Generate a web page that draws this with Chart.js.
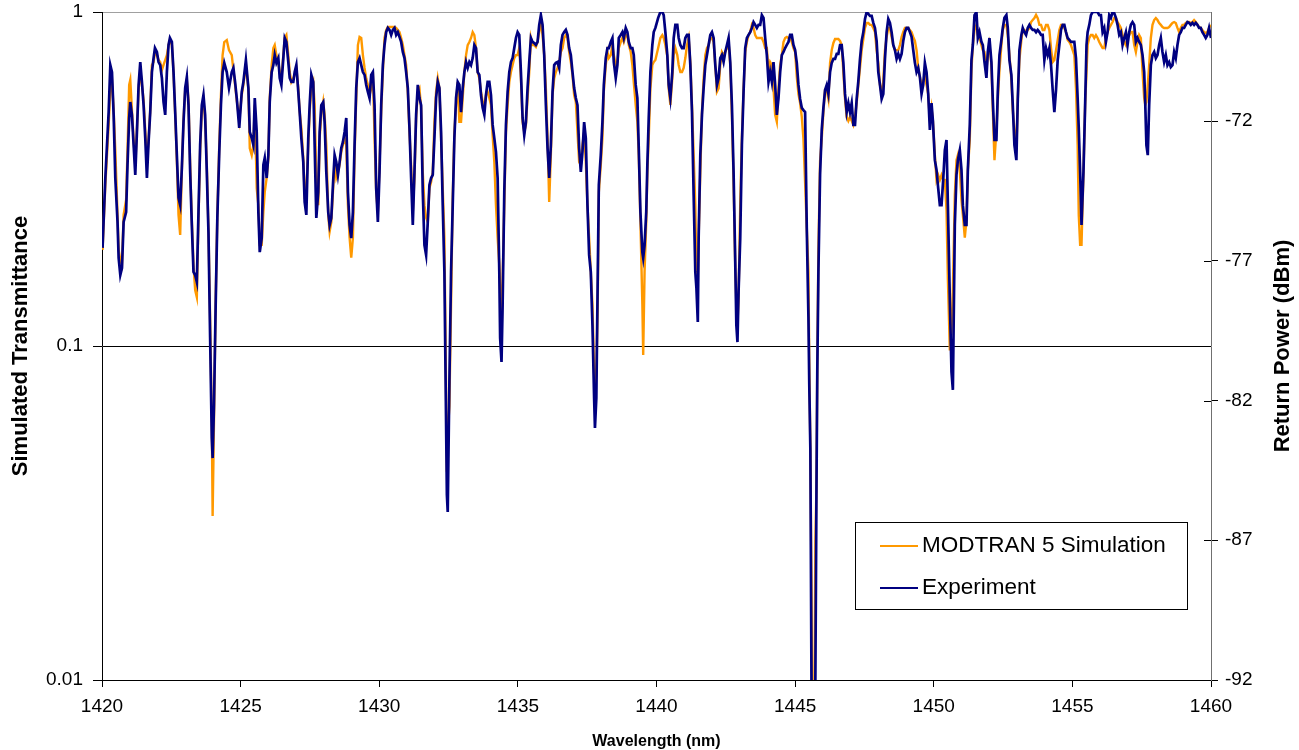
<!DOCTYPE html>
<html lang="en">
<head>
<meta charset="UTF-8">
<title>Simulated Transmittance vs Return Power</title>
<style>
  html, body { margin: 0; padding: 0; background: #fff; }
</style>
</head>
<body>
<canvas id="myChart" width="1299" height="750"></canvas>
<script src="https://cdn.jsdelivr.net/npm/chart.js"></script>
<script>
// wavelength (nm), shared by both traces
const wavelength = [
 1420.02,1420.12,1420.24,1420.30,1420.36,1420.42,1420.48,1420.56,1420.60,1420.66,
 1420.72,1420.78,1420.87,1420.92,1420.98,1421.02,1421.08,1421.14,1421.20,1421.26,
 1421.32,1421.38,1421.44,1421.50,1421.56,1421.62,1421.68,1421.74,1421.80,1421.86,
 1421.91,1421.98,1422.04,1422.10,1422.16,1422.22,1422.28,1422.34,1422.40,1422.45,
 1422.52,1422.58,1422.64,1422.70,1422.76,1422.82,1422.88,1422.94,1423.00,1423.06,
 1423.12,1423.18,1423.24,1423.30,1423.36,1423.42,1423.48,1423.54,1423.60,1423.66,
 1423.72,1423.78,1423.84,1423.90,1423.96,1423.99,1424.04,1424.10,1424.16,1424.23,
 1424.29,1424.35,1424.41,1424.50,1424.58,1424.68,1424.74,1424.80,1424.86,1424.95,
 1425.04,1425.10,1425.19,1425.28,1425.33,1425.40,1425.46,1425.51,1425.58,1425.64,
 1425.69,1425.76,1425.82,1425.87,1425.94,1426.00,1426.05,1426.12,1426.18,1426.23,
 1426.29,1426.36,1426.41,1426.47,1426.54,1426.59,1426.65,1426.72,1426.77,1426.83,
 1426.90,1426.95,1427.01,1427.08,1427.13,1427.19,1427.26,1427.31,1427.37,1427.44,
 1427.49,1427.55,1427.62,1427.67,1427.73,1427.80,1427.85,1427.91,1427.98,1428.03,
 1428.09,1428.16,1428.21,1428.27,1428.33,1428.39,1428.45,1428.51,1428.57,1428.63,
 1428.69,1428.75,1428.81,1428.87,1428.93,1428.99,1429.05,1429.11,1429.17,1429.23,
 1429.29,1429.35,1429.41,1429.47,1429.53,1429.59,1429.65,1429.71,1429.77,1429.83,
 1429.89,1429.95,
 1430.01,1430.07,1430.13,1430.19,1430.25,1430.31,1430.37,1430.43,
 1430.49,1430.55,1430.61,1430.67,1430.73,1430.79,1430.85,1430.91,1430.97,1431.03,
 1431.09,1431.15,1431.21,1431.27,1431.33,1431.39,1431.45,1431.51,1431.57,1431.63,
 1431.69,1431.75,1431.81,1431.87,1431.93,1431.99,1432.05,1432.11,1432.17,1432.23,
 1432.29,1432.35,1432.39,1432.44,1432.47,1432.53,1432.59,1432.65,1432.71,1432.77,
 1432.83,1432.89,1432.95,1433.01,1433.07,1433.13,1433.19,1433.25,1433.31,1433.37,
 1433.43,1433.49,1433.55,1433.61,1433.67,1433.73,1433.79,1433.85,1433.91,1433.97,
 1434.03,1434.09,1434.15,1434.21,1434.27,1434.33,1434.36,1434.41,1434.45,1434.51,
 1434.57,1434.63,1434.69,1434.75,1434.81,1434.87,1434.93,
 1434.99,1435.05,1435.11,1435.17,1435.23,1435.29,1435.35,1435.41,1435.47,1435.53,
 1435.59,1435.65,1435.71,1435.77,1435.83,1435.89,1435.95,1436.01,1436.07,1436.13,
 1436.19,1436.25,1436.31,1436.37,1436.43,1436.49,1436.55,1436.61,1436.67,1436.73,
 1436.79,1436.85,1436.91,1436.97,1437.03,1437.09,1437.15,1437.21,1437.27,1437.33,
 1437.39,1437.45,1437.51,1437.57,1437.63,1437.69,1437.75,1437.78,1437.83,1437.88,
 1437.92,1437.99,1438.05,1438.10,1438.17,1438.23,1438.28,1438.35,1438.41,1438.46,
 1438.53,1438.59,1438.64,1438.71,1438.77,1438.82,1438.89,1438.95,1439.00,1439.07,
 1439.13,1439.18,1439.25,1439.31,1439.36,1439.42,1439.49,1439.52,1439.57,1439.63,
 1439.67,1439.72,1439.78,1439.85,1439.90,1439.96,1440.06,
 1440.14,1440.21,1440.26,1440.32,1440.39,1440.44,1440.50,1440.57,1440.62,1440.68,
 1440.75,1440.80,1440.86,1440.92,1440.98,1441.04,1441.10,1441.16,1441.22,1441.28,
 1441.34,1441.40,1441.44,1441.49,1441.52,1441.58,1441.64,1441.70,1441.76,1441.82,
 1441.88,1441.94,1442.00,1442.06,1442.12,1442.18,1442.24,1442.30,1442.36,1442.42,
 1442.48,1442.54,1442.60,1442.66,1442.72,1442.78,1442.84,1442.88,1442.92,1442.96,
 1443.02,1443.08,1443.14,1443.20,1443.26,1443.32,1443.38,1443.44,1443.50,1443.56,
 1443.62,1443.68,1443.74,1443.80,1443.86,1443.92,1443.98,1444.04,1444.10,1444.16,
 1444.22,1444.28,1444.34,1444.40,1444.46,1444.52,1444.58,1444.64,1444.70,1444.76,
 1444.82,1444.88,1444.94,1445.00,
 1445.06,1445.12,1445.18,1445.24,1445.30,1445.36,1445.42,1445.48,1445.51,1445.55,
 1445.59,1445.62,1445.69,1445.73,1445.77,1445.80,1445.84,1445.90,1445.96,1446.02,
 1446.08,1446.14,1446.20,1446.26,1446.32,1446.38,1446.44,1446.50,1446.56,1446.62,
 1446.68,1446.74,1446.80,1446.86,1446.92,1446.98,1447.04,1447.10,1447.16,1447.22,
 1447.28,1447.34,1447.40,1447.46,1447.52,1447.58,1447.64,1447.70,1447.76,1447.82,
 1447.88,1447.94,1448.00,1448.06,1448.12,1448.18,1448.24,1448.30,1448.36,1448.42,
 1448.48,1448.54,1448.60,1448.66,1448.72,1448.78,1448.84,1448.90,1448.96,1449.02,
 1449.08,1449.14,1449.20,1449.26,1449.32,1449.38,1449.44,1449.50,1449.56,1449.62,
 1449.68,1449.74,1449.80,1449.86,1449.92,1449.97,1450.04,
 1450.10,1450.16,1450.22,1450.28,1450.34,1450.40,1450.46,1450.51,1450.58,1450.64,
 1450.69,1450.76,1450.82,1450.87,1450.94,1451.00,1451.05,1451.12,1451.18,1451.23,
 1451.30,1451.36,1451.41,1451.47,1451.54,1451.59,1451.65,1451.72,1451.77,1451.83,
 1451.90,1451.95,1452.01,1452.08,1452.13,1452.19,1452.26,1452.31,1452.37,1452.44,
 1452.49,1452.55,1452.62,1452.67,1452.73,1452.80,1452.85,1452.91,1452.98,1453.03,
 1453.09,1453.16,1453.21,1453.27,1453.33,1453.39,1453.45,1453.51,1453.57,1453.63,
 1453.69,1453.75,1453.81,1453.87,1453.93,1453.99,1454.05,1454.11,1454.17,1454.23,
 1454.29,1454.35,1454.41,1454.47,1454.53,1454.59,1454.65,1454.71,1454.77,1454.83,
 1454.89,1454.95,1455.01,1455.07,
 1455.13,1455.19,1455.23,1455.28,1455.33,1455.40,1455.46,1455.51,1455.55,1455.61,
 1455.67,1455.73,1455.79,1455.85,1455.91,1455.97,1456.03,1456.09,1456.15,1456.21,
 1456.27,1456.33,1456.39,1456.45,1456.51,1456.57,1456.63,1456.69,1456.75,1456.81,
 1456.87,1456.93,1456.99,1457.05,1457.11,1457.17,1457.23,1457.29,1457.35,1457.41,
 1457.47,1457.53,1457.59,1457.63,1457.67,1457.72,1457.77,1457.83,1457.89,1457.95,
 1458.01,1458.07,1458.13,1458.19,1458.25,1458.31,1458.37,1458.43,1458.49,1458.55,
 1458.61,1458.67,1458.73,1458.79,1458.85,1458.91,1458.97,1459.03,1459.09,1459.15,
 1459.21,1459.27,1459.33,1459.39,1459.45,1459.51,1459.57,1459.63,1459.69,1459.75,
 1459.81,1459.87,1459.93,1460.00
];

// Experiment, return power (dBm), right axis
const experiment = [
 -76.54,-74.04,-71.68,-70.00,-70.25,-71.78,-74.04,-75.61,-76.90,-77.51,
 -77.26,-75.61,-75.26,-73.57,-71.89,-71.32,-71.78,-72.86,-73.93,-72.39,
 -70.71,-69.89,-70.60,-71.43,-72.61,-74.04,-72.75,-71.68,-70.25,-69.75,
 -69.39,-69.53,-69.89,-70.00,-70.46,-71.32,-71.78,-70.25,-69.28,-69.03,
 -69.17,-70.25,-71.68,-73.22,-74.75,-75.01,-73.68,-72.04,-70.82,-70.43,
 -71.43,-73.82,-75.72,-77.40,-77.51,-77.76,-75.26,-72.86,-71.43,-71.07,
 -71.78,-73.82,-75.97,-79.76,-83.34,-84.06,-82.16,-78.58,-75.47,-73.11,
 -71.43,-70.25,-69.92,-70.25,-70.82,-70.25,-70.10,-70.60,-71.18,-72.25,
 -70.96,-70.60,-69.82,-70.82,-72.39,-72.61,-72.86,-71.18,-72.39,-75.26,
 -76.69,-76.19,-73.57,-73.32,-74.04,-73.22,-71.32,-70.25,-70.00,-69.64,
 -69.92,-69.75,-70.46,-70.71,-69.75,-69.03,-69.17,-69.89,-70.46,-70.60,
 -70.60,-70.25,-70.00,-70.96,-71.68,-72.61,-73.47,-74.90,-75.36,-72.61,
 -71.43,-70.35,-70.60,-72.86,-75.47,-74.54,-72.39,-71.43,-71.32,-72.04,
 -73.82,-75.26,-75.72,-75.47,-74.29,-73.22,-73.47,-73.93,-73.47,-72.97,
 -72.75,-72.39,-71.89,-74.54,-75.72,-76.19,-75.26,-72.86,-70.82,-69.89,
 -69.75,-70.00,-70.25,-70.35,-70.71,-70.96,-71.18,-70.35,-70.25,-71.43,
 -74.40,-75.61,
 -73.82,-71.43,-70.00,-69.28,-68.82,-68.67,-68.74,-68.92,
 -68.74,-68.67,-68.92,-68.82,-68.99,-69.17,-69.53,-69.75,-70.25,-70.82,
 -72.25,-74.04,-75.72,-73.82,-71.78,-70.71,-71.18,-71.43,-74.54,-76.44,
 -76.79,-75.61,-74.29,-74.04,-73.93,-72.61,-71.18,-70.60,-70.82,-72.39,
 -75.01,-77.40,-80.98,-85.38,-85.99,-81.34,-77.40,-75.01,-72.61,-71.18,
 -70.60,-70.71,-71.68,-70.82,-70.25,-69.89,-70.10,-69.89,-70.00,-69.75,
 -69.28,-69.39,-70.25,-70.35,-71.07,-71.53,-71.78,-71.07,-70.60,-70.60,
 -71.07,-72.14,-72.61,-73.11,-74.04,-77.40,-79.76,-80.62,-78.58,-74.54,
 -72.14,-70.96,-70.25,-69.89,-69.75,-69.39,-69.03,
 -68.82,-68.92,-70.25,-71.89,-72.50,-72.04,-70.82,-69.89,-69.03,-69.17,
 -69.21,-69.28,-69.17,-68.56,-68.21,-68.56,-69.64,-71.43,-72.97,-74.04,
 -72.86,-70.96,-70.00,-69.92,-69.89,-70.10,-69.28,-68.92,-68.82,-68.74,
 -68.92,-69.39,-69.64,-70.25,-70.82,-71.18,-71.43,-72.97,-73.82,-73.11,
 -72.04,-72.61,-75.01,-76.79,-77.40,-79.30,-81.91,-82.98,-81.91,-77.62,
 -74.29,-73.22,-72.04,-70.71,-69.75,-69.39,-69.39,-69.17,-69.03,-69.89,
 -70.46,-70.00,-69.03,-68.92,-68.82,-69.03,-68.67,-68.82,-69.17,-69.39,
 -69.39,-69.64,-70.71,-71.18,-72.97,-75.26,-76.69,-76.90,-76.44,-75.26,
 -73.57,-71.89,-70.25,-69.28,-68.82,-68.67,-68.31,
 -68.10,-68.10,-68.21,-68.82,-69.64,-70.71,-71.18,-70.25,-69.03,-68.56,
 -68.56,-69.03,-69.28,-69.39,-69.39,-69.03,-68.92,-68.92,-70.00,-71.68,
 -74.65,-77.40,-77.98,-79.19,-76.19,-73.22,-71.78,-70.82,-70.00,-69.64,
 -69.28,-68.92,-68.82,-69.03,-70.00,-70.71,-70.46,-69.75,-69.64,-69.89,
 -69.53,-69.28,-69.03,-69.89,-71.43,-73.82,-77.04,-79.30,-79.91,-78.12,
 -76.19,-72.86,-70.96,-69.39,-69.03,-68.92,-68.82,-68.67,-68.46,-68.56,
 -68.67,-68.56,-68.56,-68.21,-68.31,-69.03,-69.64,-70.60,-70.25,-70.60,
 -69.89,-70.71,-71.78,-71.18,-70.25,-69.64,-69.53,-69.39,-69.28,-69.17,
 -68.92,-68.92,-69.28,-69.46,
 -69.92,-70.71,-71.21,-71.53,-71.61,-71.68,-75.83,-79.01,-81.41,-83.77,
 -92.00,-93.50,-93.50,-92.00,-85.20,-80.91,-77.40,-73.90,-72.32,-71.53,
 -70.89,-70.71,-71.03,-70.25,-69.92,-69.78,-69.78,-69.60,-69.60,-69.28,
 -69.28,-69.92,-71.03,-71.68,-71.36,-71.68,-71.36,-72.14,-72.14,-71.21,
 -70.57,-69.78,-69.14,-68.82,-68.35,-68.10,-68.17,-68.24,-68.24,-68.49,
 -68.67,-69.14,-70.25,-70.71,-71.21,-71.03,-69.78,-68.82,-68.35,-68.49,
 -68.82,-69.28,-69.46,-69.78,-69.60,-69.78,-69.60,-69.14,-68.82,-68.67,
 -68.67,-68.82,-68.99,-69.46,-69.92,-70.25,-70.10,-70.43,-71.03,-70.71,
 -69.92,-70.25,-71.03,-72.32,-71.36,-72.00,-73.40,
 -73.75,-74.40,-75.01,-75.01,-74.11,-73.04,-72.68,-75.01,-78.40,-80.98,
 -81.62,-75.72,-73.93,-73.40,-73.04,-73.75,-75.01,-75.72,-75.72,-73.75,
 -72.14,-69.82,-69.28,-68.21,-68.10,-69.03,-68.82,-69.17,-69.28,-69.89,
 -70.46,-69.53,-69.03,-69.89,-71.25,-72.68,-72.68,-70.96,-69.64,-69.10,
 -68.67,-68.31,-68.21,-68.67,-69.82,-70.35,-71.43,-72.86,-73.40,-71.25,
 -69.46,-68.92,-68.67,-68.82,-68.92,-68.67,-68.56,-68.67,-68.74,-68.74,
 -68.82,-68.74,-68.82,-68.92,-68.92,-69.82,-69.39,-69.64,-69.39,-70.00,
 -70.89,-71.68,-70.89,-69.82,-69.28,-68.74,-68.56,-68.56,-68.82,-69.03,
 -69.10,-69.17,-69.17,-69.17,
 -69.75,-71.18,-72.25,-73.82,-75.72,-73.82,-71.43,-69.28,-68.82,-68.56,
 -68.21,-68.10,-68.10,-68.10,-68.10,-68.21,-68.21,-68.82,-68.67,-69.17,
 -68.82,-68.21,-68.31,-68.10,-68.14,-68.31,-68.56,-68.92,-68.82,-69.28,
 -69.03,-68.82,-69.28,-68.82,-68.56,-68.46,-68.56,-69.17,-69.03,-69.17,
 -69.28,-69.64,-70.25,-71.43,-72.86,-73.22,-71.43,-70.00,-69.64,-69.53,
 -69.75,-69.64,-69.28,-69.03,-69.53,-69.89,-69.64,-70.00,-69.89,-70.07,
 -70.00,-69.53,-69.75,-69.28,-68.92,-68.82,-68.67,-68.67,-68.56,-68.46,
 -68.49,-68.56,-68.49,-68.56,-68.49,-68.56,-68.67,-68.67,-68.82,-68.92,
 -69.03,-68.92,-68.67,-69.03
];

// MODTRAN 5 simulated transmittance, left (log) axis
const simulation = [
 0.194,0.303,0.459,0.584,0.626,0.509,0.386,0.247,0.194,0.181,
 0.175,0.247,0.274,0.386,0.605,0.626,0.509,0.414,0.348,0.443,
 0.584,0.670,0.605,0.545,0.443,0.360,0.414,0.509,0.694,0.708,
 0.759,0.743,0.718,0.708,0.670,0.694,0.718,0.743,0.796,0.824,
 0.796,0.661,0.492,0.360,0.247,0.215,0.336,0.475,0.584,0.626,
 0.545,0.348,0.238,0.175,0.147,0.140,0.238,0.386,0.509,0.545,
 0.475,0.348,0.222,0.120,0.060,0.031,0.060,0.137,0.247,0.400,
 0.564,0.743,0.813,0.824,0.769,0.743,0.670,0.605,0.545,0.475,
 0.564,0.605,0.694,0.590,0.391,0.373,0.400,0.527,0.297,0.264,
 0.201,0.201,0.252,0.289,0.319,0.365,0.553,0.694,0.780,0.796,
 0.743,0.708,0.661,0.633,0.743,0.836,0.853,0.743,0.661,0.617,
 0.633,0.648,0.680,0.590,0.502,0.450,0.365,0.283,0.289,0.400,
 0.502,0.590,0.617,0.527,0.319,0.264,0.420,0.492,0.538,0.492,
 0.400,0.247,0.220,0.235,0.289,0.356,0.319,0.331,0.348,0.381,
 0.400,0.420,0.400,0.264,0.211,0.184,0.211,0.373,0.553,0.796,
 0.842,0.836,0.743,0.680,0.633,0.605,0.564,0.590,0.661,0.420,
 0.289,0.252,
 0.348,0.502,0.661,0.836,0.883,0.902,0.902,0.902,
 0.902,0.902,0.896,0.883,0.871,0.836,0.796,0.743,0.694,0.577,
 0.437,0.348,0.252,0.319,0.482,0.577,0.590,0.516,0.331,0.264,
 0.242,0.235,0.297,0.310,0.331,0.469,0.577,0.633,0.590,0.420,
 0.297,0.211,0.106,0.042,0.055,0.066,0.133,0.278,0.437,0.527,
 0.617,0.469,0.469,0.553,0.661,0.743,0.796,0.813,0.836,0.871,
 0.853,0.780,0.661,0.633,0.577,0.538,0.527,0.564,0.577,0.553,
 0.527,0.428,0.356,0.264,0.211,0.175,0.150,0.106,0.160,0.264,
 0.437,0.527,0.617,0.661,0.694,0.728,0.743,
 0.743,0.780,0.633,0.469,0.437,0.459,0.553,0.661,0.836,0.796,
 0.796,0.786,0.813,0.871,0.933,0.853,0.743,0.590,0.420,0.270,
 0.373,0.564,0.633,0.661,0.680,0.708,0.759,0.780,0.836,0.853,
 0.836,0.759,0.708,0.648,0.564,0.538,0.437,0.356,0.348,0.400,
 0.437,0.356,0.264,0.211,0.167,0.133,0.083,0.075,0.082,0.133,
 0.289,0.348,0.420,0.577,0.694,0.759,0.728,0.743,0.796,0.743,
 0.694,0.708,0.780,0.813,0.836,0.813,0.853,0.853,0.796,0.759,
 0.694,0.617,0.527,0.469,0.373,0.235,0.133,0.094,0.167,0.235,
 0.331,0.420,0.590,0.694,0.708,0.718,0.780,
 0.836,0.853,0.836,0.796,0.736,0.590,0.527,0.633,0.743,0.780,
 0.743,0.694,0.661,0.661,0.680,0.728,0.796,0.836,0.708,0.527,
 0.373,0.264,0.167,0.155,0.211,0.331,0.502,0.633,0.743,0.780,
 0.796,0.836,0.836,0.813,0.694,0.577,0.590,0.694,0.759,0.743,
 0.759,0.780,0.813,0.694,0.492,0.310,0.175,0.133,0.116,0.140,
 0.264,0.420,0.590,0.759,0.813,0.853,0.871,0.915,0.896,0.853,
 0.836,0.836,0.836,0.836,0.813,0.780,0.780,0.661,0.708,0.694,
 0.590,0.492,0.469,0.590,0.694,0.743,0.813,0.836,0.842,0.836,
 0.836,0.813,0.780,0.759,
 0.639,0.568,0.534,0.485,0.417,0.308,0.226,0.167,0.090,0.049,
 0.0194,0.007,0.007,0.026,0.038,0.090,0.194,0.358,0.417,0.502,
 0.584,0.584,0.549,0.703,0.769,0.808,0.830,0.830,0.830,0.819,
 0.796,0.661,0.549,0.485,0.472,0.485,0.472,0.459,0.485,0.534,
 0.605,0.680,0.769,0.830,0.896,0.927,0.927,0.915,0.915,0.896,
 0.871,0.769,0.703,0.605,0.568,0.622,0.769,0.842,0.896,0.896,
 0.842,0.796,0.769,0.769,0.769,0.796,0.842,0.871,0.896,0.896,
 0.896,0.883,0.871,0.842,0.819,0.769,0.680,0.639,0.605,0.622,
 0.639,0.605,0.568,0.472,0.516,0.472,0.373,
 0.314,0.325,0.314,0.325,0.314,0.314,0.255,0.158,0.097,0.112,
 0.147,0.283,0.360,0.373,0.336,0.274,0.247,0.211,0.238,0.336,
 0.414,0.670,0.796,0.883,0.915,0.853,0.836,0.796,0.769,0.759,
 0.670,0.743,0.796,0.694,0.509,0.360,0.443,0.545,0.670,0.796,
 0.883,0.915,0.915,0.853,0.743,0.626,0.509,0.443,0.386,0.545,
 0.718,0.824,0.883,0.883,0.871,0.883,0.896,0.933,0.946,0.959,
 0.980,0.959,0.915,0.915,0.883,0.883,0.915,0.915,0.883,0.780,
 0.708,0.718,0.769,0.824,0.883,0.915,0.915,0.896,0.871,0.824,
 0.813,0.796,0.769,0.743,
 0.590,0.400,0.247,0.201,0.201,0.331,0.527,0.661,0.796,0.836,
 0.853,0.853,0.836,0.853,0.836,0.813,0.796,0.780,0.780,0.836,
 0.871,0.896,0.915,0.933,0.959,0.959,0.933,0.915,0.896,0.853,
 0.813,0.796,0.836,0.853,0.871,0.871,0.796,0.759,0.813,0.853,
 0.836,0.661,0.553,0.527,0.538,0.605,0.694,0.836,0.915,0.946,
 0.959,0.946,0.927,0.915,0.902,0.896,0.896,0.896,0.902,0.915,
 0.927,0.933,0.927,0.896,0.871,0.896,0.915,0.915,0.927,0.933,
 0.933,0.927,0.933,0.946,0.933,0.915,0.902,0.896,0.883,0.871,
 0.865,0.871,0.896,0.915
];

const xTicks = [1420, 1425, 1430, 1435, 1440, 1445, 1450, 1455, 1460];
const leftTicks = [0.01, 0.1, 1];
const rightTicks = [-92, -87, -82, -77, -72];
const seriesNames = ['MODTRAN 5 Simulation', 'Experiment'];
const seriesColors = ['#FF9900', '#000080'];

const FONT = '"Liberation Sans", Arial, sans-serif';

const simPoints = wavelength.map((w, i) => ({ x: w, y: simulation[i] }));
const expPoints = wavelength.map((w, i) => ({ x: w, y: experiment[i] }));

// vertical axes: fixed width, no label overflow added above/below the plot
function fixVertical(width) {
  return s => {
    s.width = width;
    s.paddingTop = 0;
    s.paddingBottom = 0;
  };
}

// right axis inner ticks, right title (reads bottom-to-top) and boxed legend
const decorations = {
  id: 'decorations',
  afterDraw(chart) {
    const { ctx, chartArea: a, scales } = chart;
    ctx.save();
    ctx.strokeStyle = '#000';
    ctx.lineWidth = 1;
    rightTicks.forEach(v => {
      const py = Math.round(scales.y2.getPixelForValue(v)) + 0.5;
      ctx.beginPath();
      ctx.moveTo(a.right - 7, py);
      ctx.lineTo(a.right, py);
      ctx.stroke();
    });
    ctx.restore();

    ctx.save();
    ctx.translate(chart.width - 16, (a.top + a.bottom) / 2);
    ctx.rotate(-Math.PI / 2);
    ctx.font = 'bold 22px ' + FONT;
    ctx.fillStyle = '#000';
    ctx.textAlign = 'center';
    ctx.textBaseline = 'middle';
    ctx.fillText('Return Power (dBm)', 0, 0);
    ctx.restore();

    // legend box
    const bx = a.right - 356, by = a.bottom - 158, bw = 332, bh = 87;
    ctx.save();
    ctx.fillStyle = '#fff';
    ctx.fillRect(bx, by, bw, bh);
    ctx.strokeStyle = '#000';
    ctx.lineWidth = 1;
    ctx.strokeRect(bx + 0.5, by + 0.5, bw, bh);
    ctx.font = '22.5px ' + FONT;
    ctx.textBaseline = 'middle';
    ctx.fillStyle = '#000';
    seriesNames.forEach((name, i) => {
      const ly = by + 24 + i * 42;
      ctx.strokeStyle = seriesColors[i];
      ctx.lineWidth = 2;
      ctx.beginPath();
      ctx.moveTo(bx + 25, ly);
      ctx.lineTo(bx + 63, ly);
      ctx.stroke();
      ctx.fillText(name, bx + 67, ly);
    });
    ctx.restore();
  }
};

new Chart(document.getElementById('myChart'), {
  type: 'line',
  data: {
    datasets: [
      {
        label: seriesNames[0],
        data: simPoints,
        yAxisID: 'y',
        borderColor: seriesColors[0],
        borderWidth: 2.4,
        pointRadius: 0,
        tension: 0,
        order: 2
      },
      {
        label: seriesNames[1],
        data: expPoints,
        yAxisID: 'y2',
        borderColor: seriesColors[1],
        borderWidth: 2.7,
        pointRadius: 0,
        tension: 0,
        order: 1
      }
    ]
  },
  options: {
    responsive: false,
    animation: false,
    parsing: false,
    layout: { padding: { top: 12, left: 0, right: 0, bottom: 0 } },
    plugins: {
      legend: { display: false },
      tooltip: { enabled: false }
    },
    scales: {
      x: {
        type: 'linear',
        min: 1420,
        max: 1460,
        afterBuildTicks: s => { s.ticks = xTicks.map(v => ({ value: v })); },
        afterFit: s => { s.height = 70; },
        grid: { drawOnChartArea: false, tickLength: 7, color: '#000', tickColor: '#000' },
        border: { color: '#000', width: 1 },
        ticks: {
          color: '#000',
          font: { family: FONT, size: 19 },
          padding: 8,
          maxRotation: 0,
          callback: v => String(v)
        },
        title: {
          display: true,
          text: 'Wavelength (nm)',
          color: '#000',
          font: { family: FONT, size: 16, weight: 'bold', lineHeight: 1 },
          padding: { top: 0, bottom: 0 }
        }
      },
      y: {
        type: 'logarithmic',
        position: 'left',
        min: 0.01,
        max: 1,
        afterBuildTicks: s => { s.ticks = leftTicks.map(v => ({ value: v })); },
        afterFit: fixVertical(102),
        grid: {
          color: c => (c.tick && c.tick.value === 1) ? '#a0a0a0' : '#000',
          tickColor: '#000',
          tickLength: 9
        },
        border: { color: '#000', width: 1 },
        ticks: {
          color: '#000',
          font: { family: FONT, size: 19 },
          padding: 10,
          callback: v => String(v)
        },
        title: {
          display: true,
          text: 'Simulated Transmittance',
          color: '#000',
          font: { family: FONT, size: 22, weight: 'bold', lineHeight: 1 },
          padding: { top: 10, bottom: 0 }
        }
      },
      y2: {
        type: 'linear',
        position: 'right',
        min: -92,
        max: -68.1,
        afterBuildTicks: s => { s.ticks = rightTicks.map(v => ({ value: v })); },
        afterFit: fixVertical(88),
        grid: { drawOnChartArea: false, tickLength: 7, color: '#000', tickColor: '#000' },
        border: { color: '#707070', width: 1 },
        ticks: {
          color: '#000',
          font: { family: FONT, size: 19 },
          padding: 7,
          callback: v => String(v)
        }
      }
    }
  },
  plugins: [decorations]
});
</script>
</body>
</html>
